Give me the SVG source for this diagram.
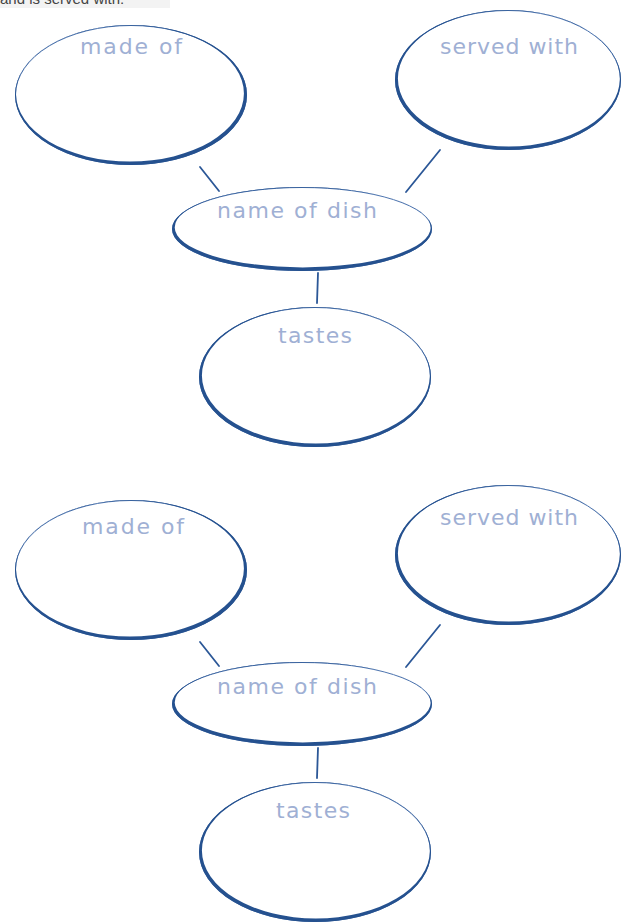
<svg xmlns="http://www.w3.org/2000/svg" width="622" height="923" viewBox="0 0 622 923">
<style>
.rim{fill:#25518f;fill-rule:evenodd}
.thin{fill:none;stroke:#4f76b0;stroke-width:1}
.lbl{font-family:"DejaVu Sans","Noto Sans",sans-serif;font-size:22px;fill:#9fb0d4;text-anchor:middle}
.con{stroke:#2b5797;stroke-width:1.8;stroke-linecap:round;fill:none}
.hdr{font-family:"Liberation Sans",Arial,sans-serif;font-size:15px;fill:#444}
</style>
<rect x="0" y="0" width="170" height="8" fill="#f3f3f3"/>
<text class="hdr" x="0" y="4">and is served with:</text>

<g id="connectors">
<line class="con" x1="200" y1="167" x2="219" y2="191"/>
<line class="con" x1="440" y1="150" x2="406" y2="192"/>
<line class="con" x1="318" y1="273" x2="317" y2="303"/>
<line class="con" x1="200" y1="642" x2="219" y2="666"/>
<line class="con" x1="440" y1="625" x2="406" y2="667"/>
<line class="con" x1="318" y1="748" x2="317" y2="778"/>
</g>

<g id="made-of-1">
<ellipse class="thin" cx="131" cy="95" rx="115.5" ry="69.5"/>
<path class="rim" d="M15,95 a116,70 0 1,0 232,0 a116,70 0 1,0 -232,0 Z M15.92,93.56 a114,68 0 1,0 228,0 a114,68 0 1,0 -228,0 Z"/>
<text class="lbl" x="131" y="54" textLength="102" lengthAdjust="spacing">made of</text>
</g>
<g id="served-with-1">
<ellipse class="thin" cx="508" cy="80" rx="112.5" ry="69.5"/>
<path class="rim" d="M395,80 a113,70 0 1,0 226,0 a113,70 0 1,0 -226,0 Z M397.9,78.47 a111,68 0 1,0 222,0 a111,68 0 1,0 -222,0 Z"/>
<text class="lbl" x="509" y="54" textLength="138" lengthAdjust="spacing">served with</text>
</g>
<g id="name-of-dish-1">
<ellipse class="thin" cx="302" cy="229" rx="129.5" ry="41.5"/>
<path class="rim" d="M172,229 a130,42 0 1,0 260,0 a130,42 0 1,0 -260,0 Z M174.72,227.38 a128,40 0 1,0 256,0 a128,40 0 1,0 -256,0 Z"/>
<text class="lbl" x="297" y="218" textLength="160" lengthAdjust="spacing">name of dish</text>
</g>
<g id="tastes-1">
<ellipse class="thin" cx="315" cy="377" rx="115.5" ry="69.5"/>
<path class="rim" d="M199,377 a116,70 0 1,0 232,0 a116,70 0 1,0 -232,0 Z M201.9,375.47 a114,68 0 1,0 228,0 a114,68 0 1,0 -228,0 Z"/>
<text class="lbl" x="315" y="343" textLength="74" lengthAdjust="spacing">tastes</text>
</g>

<g id="made-of-2" transform="translate(0,475)">
<ellipse class="thin" cx="131" cy="95" rx="115.5" ry="69.5"/>
<path class="rim" d="M15,95 a116,70 0 1,0 232,0 a116,70 0 1,0 -232,0 Z M15.92,93.56 a114,68 0 1,0 228,0 a114,68 0 1,0 -228,0 Z"/>
<text class="lbl" x="133" y="59" textLength="102" lengthAdjust="spacing">made of</text>
</g>
<g id="served-with-2" transform="translate(0,475)">
<ellipse class="thin" cx="508" cy="80" rx="112.5" ry="69.5"/>
<path class="rim" d="M395,80 a113,70 0 1,0 226,0 a113,70 0 1,0 -226,0 Z M397.9,78.47 a111,68 0 1,0 222,0 a111,68 0 1,0 -222,0 Z"/>
<text class="lbl" x="509" y="50" textLength="138" lengthAdjust="spacing">served with</text>
</g>
<g id="name-of-dish-2" transform="translate(0,475)">
<ellipse class="thin" cx="302" cy="229" rx="129.5" ry="41.5"/>
<path class="rim" d="M172,229 a130,42 0 1,0 260,0 a130,42 0 1,0 -260,0 Z M174.72,227.38 a128,40 0 1,0 256,0 a128,40 0 1,0 -256,0 Z"/>
<text class="lbl" x="297" y="219" textLength="160" lengthAdjust="spacing">name of dish</text>
</g>
<g id="tastes-2" transform="translate(0,475)">
<ellipse class="thin" cx="315" cy="377" rx="115.5" ry="69.5"/>
<path class="rim" d="M199,377 a116,70 0 1,0 232,0 a116,70 0 1,0 -232,0 Z M201.9,375.47 a114,68 0 1,0 228,0 a114,68 0 1,0 -228,0 Z"/>
<text class="lbl" x="313" y="343" textLength="74" lengthAdjust="spacing">tastes</text>
</g>
</svg>
